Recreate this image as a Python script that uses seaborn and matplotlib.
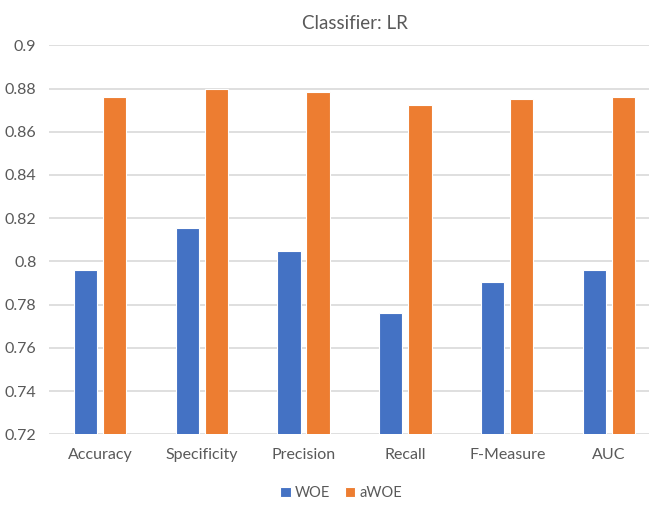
import pandas as pd
import numpy as np
import matplotlib
matplotlib.use('Agg')
import matplotlib.pyplot as plt
import seaborn as sns

# ── Data ──────────────────────────────────────────────────────────────────────
metrics = ['Accuracy', 'Specificity', 'Precision', 'Recall', 'F-Measure', 'AUC']
woe     = [0.796, 0.8153, 0.805, 0.7763, 0.7903, 0.7959]
awoe    = [0.876, 0.8796, 0.8784, 0.8722, 0.8753, 0.876]
series  = ['WOE', 'aWOE']
yticks  = [0.72, 0.74, 0.76, 0.78, 0.8, 0.82, 0.84, 0.86, 0.88, 0.9]
ytick_labels = ['0.72', '0.74', '0.76', '0.78', '0.8', '0.82', '0.84', '0.86', '0.88', '0.9']

df = pd.DataFrame({
    'Metric': metrics * 2,
    'Value': woe + awoe,
    'Series': [series[0]] * len(metrics) + [series[1]] * len(metrics),
})

# ── Style ─────────────────────────────────────────────────────────────────────
sns.set_theme(style='white')
plt.rcParams['font.family'] = ['Lato', 'DejaVu Sans']
text_col = '#595959'

fig = plt.figure(figsize=(6.49, 5.08), dpi=100)
ax = fig.add_axes([0.0755, 0.1451, 0.9414, 0.7657])

sns.barplot(data=df, x='Metric', y='Value', hue='Series', order=metrics,
            hue_order=series, palette=['#4472C4', '#ED7D31'], saturation=1,
            width=0.57, gap=0.2, edgecolor='white', linewidth=0.8,
            ax=ax, legend=True)

ax.set_ylim(0.72, 0.9)
ax.set_xlim(-0.5, 5.5)
ax.set_yticks(yticks)
ax.set_yticklabels(ytick_labels)
ax.yaxis.grid(True, color='#D9D9D9', linewidth=1.2)
ax.set_axisbelow(True)
for s in ax.spines.values():
    s.set_visible(False)
ax.tick_params(axis='y', length=0, pad=9, labelsize=11.5, labelcolor=text_col)
ax.tick_params(axis='x', length=0, pad=10, labelsize=11.5, labelcolor=text_col)
ax.set_xlabel('')
ax.set_ylabel('')
ax.set_title('Classifier: LR', fontsize=13.5, color=text_col, pad=12)

handles, labels = ax.get_legend_handles_labels()
ax.get_legend().remove()
fig.legend(handles, labels, loc='center', bbox_to_anchor=(0.526, 0.03),
           ncol=2, frameon=False, fontsize=10.5, labelcolor=text_col,
           handlelength=0.7, handleheight=0.7, handletextpad=0.3, columnspacing=1.0)

plt.savefig('out.png', dpi=100)
